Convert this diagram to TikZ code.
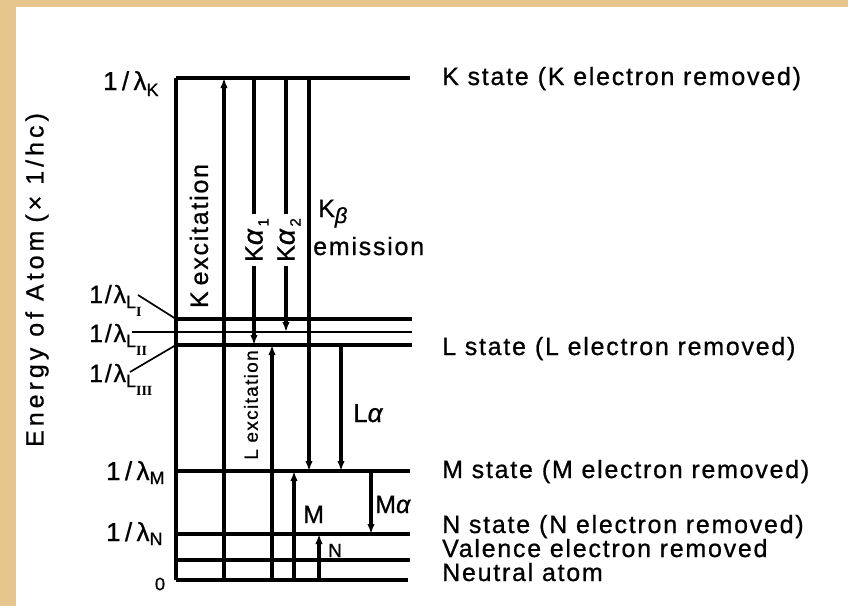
\documentclass[tikz,border=0pt]{standalone}
\usepackage{fontspec}
\setmainfont{Liberation Sans}[LetterSpace=7,FakeBold=0.8]
\newfontfamily\romfont{Liberation Serif}
\newfontfamily\widefont{Liberation Sans}[LetterSpace=16,FakeBold=0.8]
\usetikzlibrary{arrows.meta}
\definecolor{parch}{HTML}{E6C68C}
\newcommand{\fs}[1]{\fontsize{#1}{#1}\selectfont}
\newcommand{\lowr}[3]{\raisebox{-#1pt}{\fs{#2}#3}}
\begin{document}
\begin{tikzpicture}[x=1pt,y=-1pt,
  lvl/.style={line width=3.2pt},
  thinlvl/.style={line width=2.5pt},
  tr/.style={line width=3.2pt,-{Latex[length=10pt,width=7.5pt]}},
  lab/.style={inner sep=0pt,font=\fs{25}},
  smlab/.style={inner sep=0pt,font=\fs{19}},
  leader/.style={line width=1.7pt}]
\fill[parch] (0,0) rectangle (848,606);
\fill[white] (16,7) rectangle (848,606);
\useasboundingbox (0,0) rectangle (848,606);

% level end points
\coordinate (K0) at (176,78);   \coordinate (K1) at (410,78);
\coordinate (LI0) at (176,319); \coordinate (LI1) at (412,319);
\coordinate (LII0) at (132,332);\coordinate (LII1) at (412,332);
\coordinate (LIII0) at (176,345);\coordinate (LIII1) at (412,345);
\coordinate (M0) at (176,471);  \coordinate (M1) at (410,471);
\coordinate (N0) at (176,534);  \coordinate (N1) at (410,534);
\coordinate (V0) at (176,560);  \coordinate (V1) at (410,560);
\coordinate (Z0) at (176,580);  \coordinate (Z1) at (408,580);

\draw[lvl] (K0) -- (K1);
\draw[lvl] (LI0) -- (LI1);
\draw[thinlvl] (LII0) -- (LII1);
\draw[lvl] (LIII0) -- (LIII1);
\draw[lvl] (M0) -- (M1);
\draw[lvl] (N0) -- (N1);
\draw[lvl] (V0) -- (V1);
\draw[lvl] (Z0) -- (Z1);
\draw[lvl] (K0) -- (Z0);

% transition end points
\coordinate (kexA) at (224,580); \coordinate (kexB) at (224,78);
\coordinate (ka1A) at (254,78);  \coordinate (ka1B) at (254,345);
\coordinate (ka2A) at (286,78);  \coordinate (ka2B) at (286,332);
\coordinate (kbA) at (309,78);   \coordinate (kbB) at (309,471);
\coordinate (lexA) at (272,580); \coordinate (lexB) at (272,345);
\coordinate (laA) at (341,345);  \coordinate (laB) at (341,471);
\coordinate (mexA) at (294,580); \coordinate (mexB) at (294,471);
\coordinate (maA) at (371,471);  \coordinate (maB) at (371,534);
\coordinate (nexA) at (319,580); \coordinate (nexB) at (319,534);

\draw[tr] (kexA) -- (kexB);
\draw[tr] (ka1A) -- (ka1B);
\draw[tr] (ka2A) -- (ka2B);
\draw[tr] (kbA) -- (kbB);
\draw[tr] (lexA) -- (lexB);
\draw[tr] (laA) -- (laB);
\draw[tr] (mexA) -- (mexB);
\draw[tr] (maA) -- (maB);
\draw[tr] (nexA) -- (nexB);

% transition labels
\node[lab,rotate=90] (kexl) at (199,236) {K\hspace{6pt}excitation};
\node[lab,rotate=90,fill=white,inner xsep=4pt] (ka1l) at (257,240) {K\lowr{0}{28}{\textit{α}}\lowr{6}{15}{1}};
\node[lab,rotate=90,fill=white,inner xsep=4pt] (ka2l) at (289,240) {K\lowr{0}{28}{\textit{α}}\lowr{6}{15}{2}};
\node[lab,anchor=base west] (kbl) at (318,217) {K\lowr{6}{22}{\textit{β}}};
\node[lab,anchor=base west] (emil) at (313,255) {emission};
\node[smlab,rotate=90] (lexl) at (251,405) {L excitation};
\node[lab,anchor=base west,font=\fs{26}] (lal) at (353,422) {L\textit{α}};
\node[lab,anchor=base west] (ml) at (303,523) {M};
\node[lab,anchor=base west] (mal) at (375,513) {M\textit{α}};
\node[smlab,anchor=base west] (nl) at (328,557) {N};

% left labels
\node[lab,anchor=base west,font=\fs{26}] (lk) at (103,90) {1\,/\,λ\lowr{6}{18}{K}};
\node[lab,anchor=base west] (lli) at (89,303) {1/λ\lowr{5}{18}{L}\lowr{13}{14}{\romfont\bfseries I}};
\node[lab,anchor=base west] (llii) at (89,342) {1/λ\lowr{5}{18}{L}\lowr{13}{14}{\romfont\bfseries II}};
\node[lab,anchor=base west] (lliii) at (89,382) {1/λ\lowr{5}{18}{L}\lowr{13}{14}{\romfont\bfseries III}};
\node[lab,anchor=base west,font=\fs{26}] (lm) at (106,480) {1\,/\,λ\lowr{4}{18}{M}};
\node[lab,anchor=base west,font=\fs{26}] (ln) at (106,541) {1\,/\,λ\lowr{4}{18}{N}};
\node[lab,font=\fs{18}] (lz) at (160,584) {0};
\coordinate (lliE) at (138,295);
\coordinate (lliiiE) at (130,372);
\draw[leader] (lliE) -- (LI0);
\draw[leader] (lliiiE) -- (LIII0);

% axis label
\node[lab,rotate=90,font=\fs{25}\widefont] (axl) at (37,280) {Energy of Atom\hspace{8pt}(× 1/hc)};

% state labels
\node[lab,anchor=base west] (sk) at (442,85) {K state\hspace{9pt}(K electron removed)};
\node[lab,anchor=base west] (sl) at (442,355) {L state\hspace{9pt}(L electron removed)};
\node[lab,anchor=base west] (sm) at (442,478) {M state\hspace{9pt}(M electron removed)};
\node[lab,anchor=base west] (sn) at (442,533) {N state\hspace{9pt}(N electron removed)};
\node[lab,anchor=base west] (sv) at (442,557) {Valence electron removed};
\node[lab,anchor=base west] (sz) at (442,581) {Neutral atom};
\end{tikzpicture}
\end{document}
